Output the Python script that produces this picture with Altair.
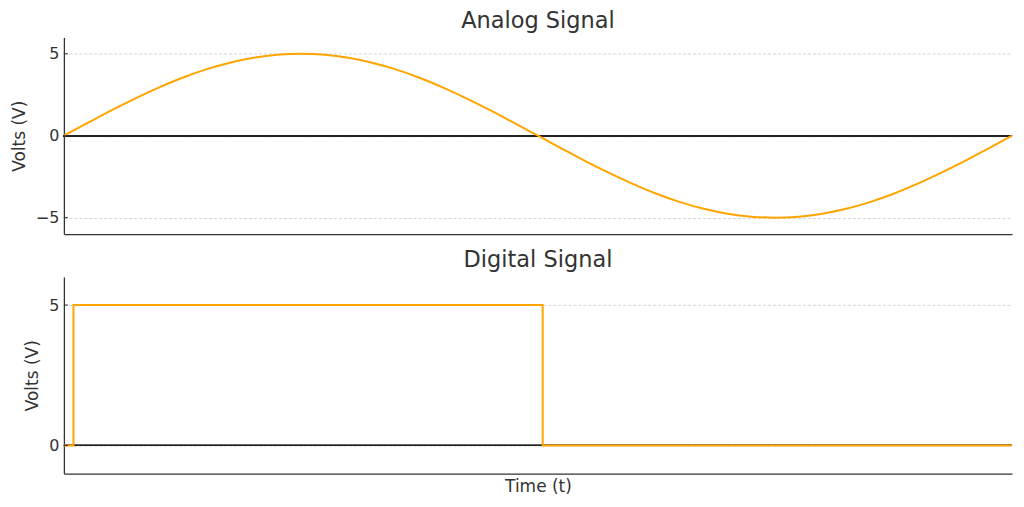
import altair as alt
import pandas as pd

# Analog signal samples (time, volts)
analog_t = [0.0, 0.025, 0.05, 0.075, 0.1, 0.125, 0.15, 0.175, 0.2, 0.225, 0.25,
            0.275, 0.3, 0.325, 0.35, 0.375, 0.4, 0.425, 0.45, 0.475, 0.5,
            0.525, 0.55, 0.575, 0.6, 0.625, 0.65, 0.675, 0.7, 0.725, 0.75,
            0.775, 0.8, 0.825, 0.85, 0.875, 0.9, 0.925, 0.95, 0.975, 1.0]
analog_v = [0.0, 0.78, 1.55, 2.27, 2.94, 3.54, 4.05, 4.46, 4.76, 4.94, 5.0,
            4.94, 4.76, 4.46, 4.05, 3.54, 2.94, 2.27, 1.55, 0.78, 0.0,
            -0.78, -1.55, -2.27, -2.94, -3.54, -4.05, -4.46, -4.76, -4.94, -5.0,
            -4.94, -4.76, -4.46, -4.05, -3.54, -2.94, -2.27, -1.55, -0.78, 0.0]

# Digital signal transitions (time, volts), drawn as steps
digital_t = [0.0, 0.0101, 0.505, 1.0]
digital_v = [0, 5, 0, 0]

analog_ticks = [-5, 0, 5]
digital_ticks = [0, 5]

FONT = "DejaVu Sans"
ORANGE = "#FFA500"
DARK = "#333333"

df_a = pd.DataFrame({"t": analog_t, "v": analog_v})
df_d = pd.DataFrame({"t": digital_t, "v": digital_v})

xscale = alt.Scale(domain=[0, 1], nice=False, zero=False)


def panel(df, title, ydomain, yticks, interp, show_xtitle):
    yscale = alt.Scale(domain=ydomain, nice=False)
    x_axis = alt.Axis(
        title="Time (t)" if show_xtitle else None,
        labels=False, ticks=False, grid=False, domain=True,
        domainColor=DARK, domainWidth=1.3,
        titleFont=FONT, titleFontSize=17, titleFontWeight="normal",
        titleColor=DARK, titlePadding=5,
    )
    y_axis = alt.Axis(
        title="Volts (V)", values=yticks, grid=True,
        gridColor="#cccccc", gridDash=[3, 2], gridWidth=0.8,
        domainColor=DARK, domainWidth=1.3, ticks=False,
        labelFont=FONT, labelFontSize=16, labelColor=DARK, labelPadding=5,
        titleFont=FONT, titleFontSize=17, titleFontWeight="normal",
        titleColor=DARK, titlePadding=7,
    )
    tick_df = pd.DataFrame({"v": yticks})
    line = alt.Chart(df).mark_line(
        color=ORANGE, strokeWidth=2, interpolate=interp
    ).encode(
        x=alt.X("t:Q", scale=xscale, axis=x_axis),
        y=alt.Y("v:Q", scale=yscale, axis=y_axis),
    )
    zero = alt.Chart(df).mark_rule(color="#222222", strokeWidth=1.3).encode(
        y=alt.datum(0)
    )
    inticks = alt.Chart(tick_df).mark_rule(color=DARK, strokeWidth=1).encode(
        y=alt.Y("v:Q", scale=yscale),
        x=alt.value(0), x2=alt.value(4),
    )
    return alt.layer(zero, line, inticks).properties(
        width=950, height=197,
        title=alt.TitleParams(title, font=FONT, fontSize=22.5, fontWeight="normal",
                              color=DARK, offset=5),
    )


top = panel(df_a, "Analog Signal", [-6, 6], analog_ticks, "monotone", False)
bottom = panel(df_d, "Digital Signal", [-1, 6], digital_ticks, "step-after", True)

chart = alt.vconcat(top, bottom, spacing=15).configure_view(stroke=None).properties(
    padding={"left": 2, "top": 1, "right": 0, "bottom": 0}
)

chart.save("out.html", embed_options={"renderer": "svg", "actions": False})
